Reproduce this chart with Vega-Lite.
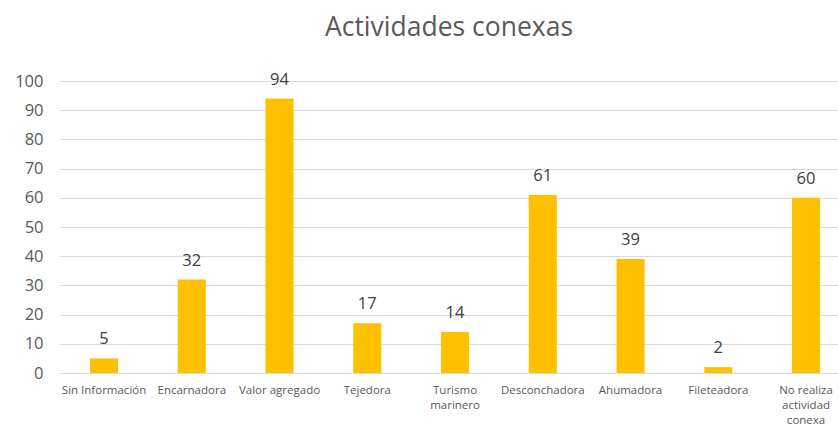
{
  "$schema": "https://vega.github.io/schema/vega-lite/v6.json",
  "width": 778,
  "height": 292,
  "autosize": {"type": "none"},
  "padding": {"left": 60, "top": 81, "right": 0, "bottom": 53},
  "background": "white",
  "title": {
    "text": "Actividades conexas",
    "fontSize": 26.5,
    "font": "Open Sans",
    "fontWeight": "normal",
    "color": "#595959",
    "anchor": "middle",
    "offset": 30
  },
  "data": {
    "values": [
      {"actividad": "Sin Información", "valor": 5},
      {"actividad": "Encarnadora", "valor": 32},
      {"actividad": "Valor agregado", "valor": 94},
      {"actividad": "Tejedora", "valor": 17},
      {"actividad": "Turismo\nmarinero", "valor": 14},
      {"actividad": "Desconchadora", "valor": 61},
      {"actividad": "Ahumadora", "valor": 39},
      {"actividad": "Fileteadora", "valor": 2},
      {"actividad": "No realiza\nactividad\nconexa", "valor": 60}
    ]
  },
  "encoding": {
    "x": {
      "field": "actividad",
      "type": "nominal",
      "sort": null,
      "scale": {"paddingInner": 0.68, "paddingOuter": 0.273, "align": 0.626},
      "axis": {
        "title": null,
        "labelAngle": 0,
        "labelFont": "Open Sans",
        "labelFontSize": 11.5,
        "labelColor": "#595959",
        "labelPadding": 11,
        "labelExpr": "split(datum.value, '\\n')",
        "labelLineHeight": 15,
        "ticks": false,
        "domainColor": "#d9d9d9",
        "domainWidth": 1
      }
    },
    "y": {
      "field": "valor",
      "type": "quantitative",
      "scale": {"domain": [0, 100]},
      "axis": {
        "title": null,
        "values": [0, 10, 20, 30, 40, 50, 60, 70, 80, 90, 100],
        "labelFont": "Open Sans",
        "labelFontSize": 16.5,
        "labelColor": "#595959",
        "labelPadding": 17,
        "ticks": false,
        "domain": false,
        "gridColor": "#d9d9d9",
        "gridWidth": 1
      }
    }
  },
  "layer": [
    {"mark": {"type": "bar", "color": "#FFC000"}},
    {
      "mark": {
        "type": "text",
        "baseline": "bottom",
        "dy": -11,
        "font": "Open Sans",
        "fontSize": 16.5,
        "color": "#404040"
      },
      "encoding": {"text": {"field": "valor", "type": "quantitative"}}
    }
  ],
  "config": {"view": {"stroke": null}}
}
